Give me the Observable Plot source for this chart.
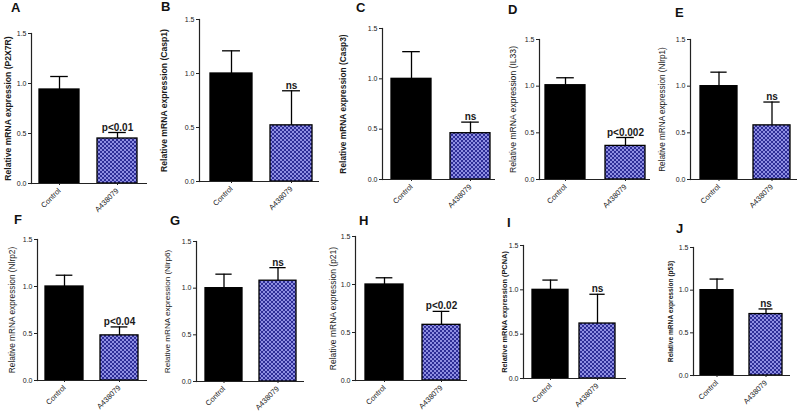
<!DOCTYPE html>
<html><head><meta charset="utf-8">
<script src="https://cdn.jsdelivr.net/npm/d3@7"></script>
<script src="https://cdn.jsdelivr.net/npm/@observablehq/plot@0.6"></script>
<style>
html,body{margin:0;padding:0;background:#fff;}
#fig{position:relative;width:800px;height:414px;overflow:hidden;font-family:"Liberation Sans",Arial,sans-serif;background:#fff;}
.panel{position:absolute;}
.letter{position:absolute;font-weight:bold;font-size:13px;line-height:13px;color:#111;font-family:"Liberation Sans",Arial,sans-serif;}
</style></head><body>
<svg width="0" height="0" style="position:absolute">
<defs>
<pattern id="chk" width="4" height="4" patternUnits="userSpaceOnUse">
<rect width="4" height="4" fill="#8e8ee2"/>
<rect width="2" height="2" fill="#2e2e96"/>
<rect x="2" y="2" width="2" height="2" fill="#2e2e96"/>
</pattern>
</defs></svg>
<div id="fig"></div>
<script>
// ---- data ----
const panels = ["A","B","C","D","E","F","G","H","I","J"];
const genes = ["P2X7R","Casp1","Casp3","IL33","Nlrp1","Nlrp2","Nlrp6","p21","PCNA","p53"];
const groups = ["Control","A438079"];
const controlMean = [0.94,1.00,1.00,1.01,1.00,1.00,1.00,1.00,1.00,1.00];
const controlTop  = [1.07,1.21,1.27,1.09,1.15,1.12,1.15,1.07,1.11,1.13];
const treatMean   = [0.45,0.52,0.46,0.36,0.58,0.48,1.08,0.58,0.62,0.72];
const treatTop    = [0.51,0.84,0.57,0.45,0.83,0.57,1.22,0.72,0.95,0.78];
const annotations = ["p<0.01","ns","ns","p<0.002","ns","p<0.04","ns","p<0.02","ns","ns"];
const yTicks = [0, 0.5, 1.0, 1.5];

// ---- layout (pixel positions in the figure) ----
const layout = [
  {axis:31,  top:33,  bottom:183, end:147, b1:39,  b2:97,  bw:40, title:8,   tw:"bold",   ts:8.6, lx:15,  ly:7},
  {axis:199, top:19,  bottom:181, end:319, b1:209, b2:270, bw:43, title:164, tw:"bold",   ts:8.6, lx:165, ly:6},
  {axis:382, top:28,  bottom:179, end:495, b1:391, b2:450, bw:40, title:343, tw:"bold",   ts:8.4, lx:360, ly:7},
  {axis:539, top:39,  bottom:179, end:650, b1:545, b2:605, bw:40, title:513, tw:"normal", ts:8.6, lx:512, ly:9},
  {axis:690, top:39,  bottom:179, end:797, b1:700, b2:753, bw:37, title:662, tw:"normal", ts:8.2, lx:679, ly:12},
  {axis:37,  top:239, bottom:380, end:147, b1:45,  b2:100, bw:38, title:12,  tw:"normal", ts:8.3, lx:18,  ly:219},
  {axis:196, top:241, bottom:381, end:304, b1:205, b2:259, bw:37, title:167, tw:"normal", ts:8.1, lx:174, ly:220},
  {axis:355, top:236, bottom:380, end:467, b1:365, b2:422, bw:38, title:333, tw:"normal", ts:8.5, lx:363, ly:220},
  {axis:523, top:245, bottom:378, end:626, b1:531, b2:579, bw:37, title:504, tw:"bold",   ts:7.4, lx:511, ly:222},
  {axis:693, top:247, bottom:375, end:790, b1:699, b2:749, bw:34, title:670, tw:"bold",   ts:6.6, lx:680, ly:228}
];

const fig = document.getElementById("fig");
const mL = 45, mT = 40, mR = 8, mB = 45;

panels.forEach((p, i) => {
  const L = layout[i];
  const data = groups.map((g, k) => ({
    group: g,
    mean: k ? treatMean[i] : controlMean[i],
    top: k ? treatTop[i] : controlTop[i],
    label: k ? annotations[i] : ""
  }));
  const width = L.end - L.axis + mL + mR;
  const height = L.bottom - L.top + mT + mB;
  const step = L.b2 - L.b1;
  const off = mL - L.axis;
  const cap = L.bw * 0.28;
  const chart = Plot.plot({
    width, height,
    marginLeft: mL, marginRight: mR, marginTop: mT, marginBottom: mB,
    style: {fontFamily: "Liberation Sans, Arial, sans-serif", fontSize: "7px", color: "#222", background: "transparent", overflow: "visible"},
    x: {domain: groups, range: [L.b1 + off, L.b2 + L.bw + off], paddingInner: 1 - L.bw / step, paddingOuter: 0, align: 0.5, label: null},
    y: {domain: [0, 1.5], label: null},
    marks: [
      Plot.barY(data.filter(d => d.group === "Control"), {x: "group", y: "mean", fill: "#000", stroke: "#000", strokeWidth: 1.3}),
      Plot.barY(data.filter(d => d.group !== "Control"), {x: "group", y: "mean", fill: "url(#chk)", stroke: "#000", strokeWidth: 1.3}),
      Plot.ruleX(data, {x: "group", y1: "mean", y2: "top", stroke: "#000", strokeWidth: 1.3}),
      Plot.tickY(data, {x: "group", y: "top", insetLeft: cap, insetRight: cap, stroke: "#000", strokeWidth: 1.3}),
      Plot.text(data.filter(d => d.label), {x: "group", y: "top", text: "label", lineAnchor: "bottom", dy: -2, fontSize: 10, fontWeight: 600, fill: "#1a1a1a"}),
      Plot.ruleY([0], {stroke: "#222", strokeWidth: 1.2}),
      Plot.frame({anchor: "left", stroke: "#222", strokeWidth: 1.2}),
      Plot.axisY({ticks: yTicks, tickFormat: d3.format(".1f"), tickSize: 3, tickPadding: 2, fontSize: 7, label: null}),
      Plot.axisX({tickRotate: -45, tickSize: 2, tickPadding: 4, fontSize: 7.5, label: null}),
      Plot.text([genes[i]], {text: d => `Relative mRNA expression (${d})`, frameAnchor: "left", textAnchor: "middle", rotate: -90, dx: L.title - L.axis, fontSize: L.ts, fontWeight: L.tw, fill: "#1a1a1a"})
    ]
  });
  chart.classList.add("panel");
  chart.style.left = (L.axis - mL) + "px";
  chart.style.top = (L.top - mT) + "px";
  fig.appendChild(chart);

  const letter = document.createElement("div");
  letter.className = "letter";
  letter.textContent = p;
  letter.style.left = (L.lx - 4) + "px";
  letter.style.top = Math.max(0, L.ly - 6) + "px";
  fig.appendChild(letter);
});
</script>
</body></html>
